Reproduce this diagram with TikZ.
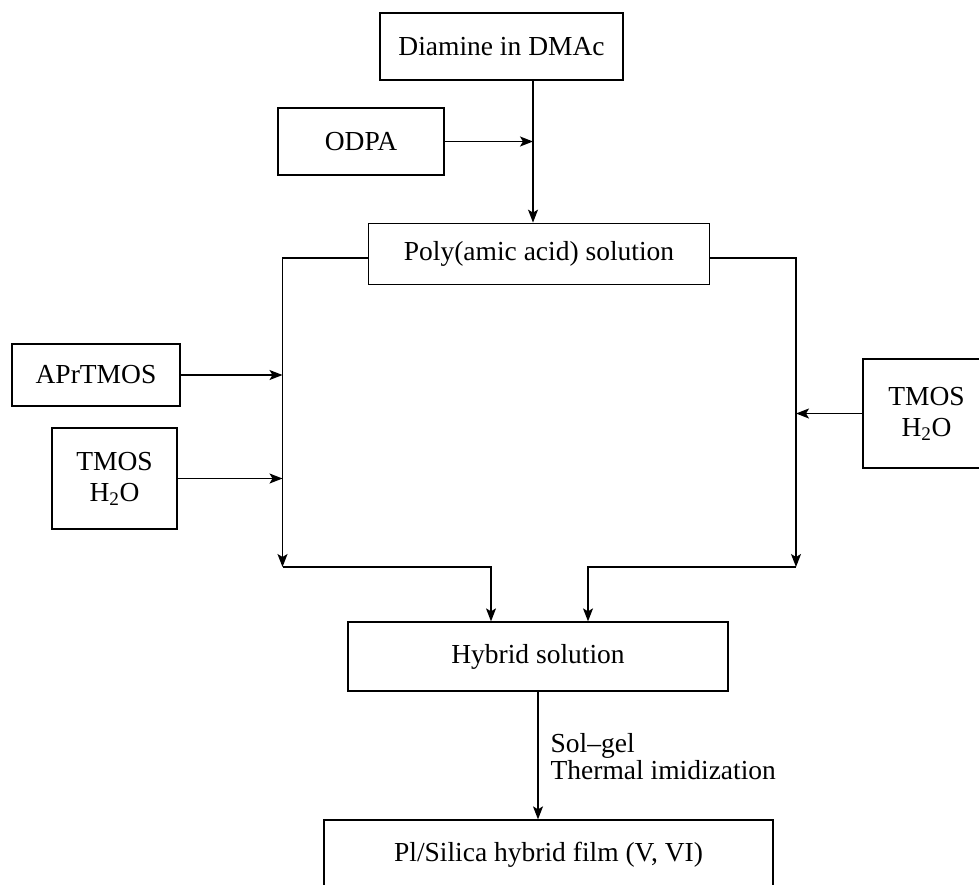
\documentclass[tikz,border=0pt]{standalone}
\usepackage{fontspec}
\setmainfont{Liberation Serif}
\usetikzlibrary{arrows.meta}
\begin{document}
\begin{tikzpicture}[x=1pt,y=-1pt, line width=1.3pt,
  txt/.style={font=\fontsize{27.5}{31}\selectfont},
  box/.style={draw, inner sep=0pt, align=center, txt},
  arr/.style={-{Stealth[length=13pt,width=10pt,inset=3pt]}}]
\useasboundingbox (0,0) rectangle (979,884);
\clip (0,0) rectangle (979,884);
% boxes
\node[box, minimum width=243pt, minimum height=67pt] (diamine) at (501.5,46.5) {Diamine in DMAc};
\node[box, minimum width=166pt, minimum height=67pt] (odpa) at (361,141.5) {ODPA};
\node[box, minimum width=341pt, minimum height=61.5pt] (poly) at (539,254) {Poly(amic acid) solution};
\node[box, minimum width=168pt, minimum height=62pt] (aprtmos) at (96,375) {APrTMOS};
\node[box, minimum width=125pt, minimum height=101pt] (tmosl) at (114.5,478.5) {TMOS\\H\textsubscript{2}O};
\node[box, minimum width=127pt, minimum height=109pt] (tmosr) at (926.5,413.5) {TMOS\\H\textsubscript{2}O};
\node[box, minimum width=380pt, minimum height=69pt] (hybrid) at (538,656.5) {Hybrid solution};
\node[box, minimum width=449pt, minimum height=70pt] (film) at (548.5,855) {Pl/Silica hybrid film (V, VI)};
% labels
\node[txt, anchor=base west, inner sep=0pt] (cond1) at (550,752) {Sol--gel};
\node[txt, anchor=base west, inner sep=0pt] (cond2) at (550,779) {Thermal imidization};
% junction coordinates
\coordinate (jt) at (533,142);
\coordinate (lt) at (282.5,258);
\coordinate (lb) at (282.5,567);
\coordinate (lm) at (491,567);
\coordinate (rt) at (796,258);
\coordinate (rb) at (796,567);
\coordinate (rm) at (588,567);
% connectors
\draw[arr] (diamine.south -| jt) -- (poly.north -| jt);
\draw[arr] (odpa.east) -- (odpa.east -| jt);
\draw[arr] (poly.west |- lt) -- (lt) -- (lb);
\draw[arr] (poly.east |- rt) -- (rt) -- (rb);
\draw[arr] (aprtmos.east) -- (aprtmos.east -| lt);
\draw[arr] (tmosl.east) -- (tmosl.east -| lt);
\draw[arr] (tmosr.west) -- (tmosr.west -| rt);
\draw[arr] (lb) -- (lm) -- (hybrid.north -| lm);
\draw[arr] (rb) -- (rm) -- (hybrid.north -| rm);
\draw[arr] (hybrid.south) -- (film.north -| hybrid.south);
\end{tikzpicture}
\end{document}
